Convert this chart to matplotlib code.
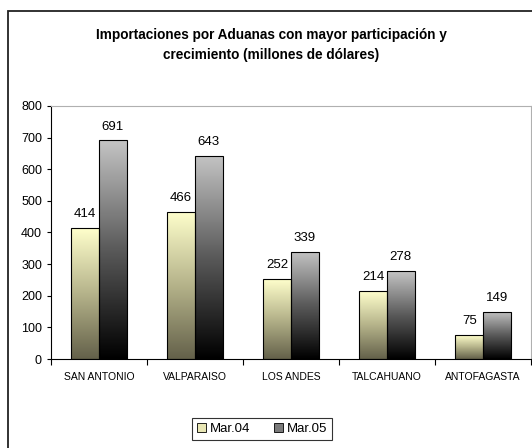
import numpy as np
import matplotlib.pyplot as plt
from matplotlib.colors import LinearSegmentedColormap
from matplotlib.patches import Rectangle

plt.rcParams['font.family'] = ['Liberation Sans', 'DejaVu Sans']

# data
aduanas = ["SAN ANTONIO", "VALPARAISO", "LOS ANDES", "TALCAHUANO", "ANTOFAGASTA"]
mar04 = [414, 466, 252, 214, 75]
mar05 = [691, 643, 339, 278, 149]
series_names = ["Mar.04", "Mar.05"]

W, H = 532, 448
fig = plt.figure(figsize=(W / 100, H / 100), dpi=100)
ax = fig.add_axes([51 / W, 89 / H, 480 / W, 253 / H])

# gradient maps (top -> bottom of each bar)
cmap04 = LinearSegmentedColormap.from_list("c04", ["#64614a", "#b5b38a", "#ffffcc"])
cmap05 = LinearSegmentedColormap.from_list("c05", ["#000000", "#5a5a5a", "#c4c4c4"])
grad = np.linspace(0, 1, 256).reshape(-1, 1)

x = np.arange(len(aduanas))
bw = 0.287
for vals, off, cmap in [(mar04, -bw / 2, cmap04), (mar05, bw / 2, cmap05)]:
    bars = ax.bar(x + off, vals, bw, facecolor="none", edgecolor="black", linewidth=0.8, zorder=3)
    for b, v in zip(bars, vals):
        x0 = b.get_x()
        im = ax.imshow(grad, cmap=cmap, origin="lower", aspect="auto",
                       extent=[x0, x0 + bw, 0, v], zorder=2)
        im.set_clip_path(b)
        ax.text(b.get_x() + bw / 2, v + 25, str(v), ha="center", va="bottom", fontsize=9.5)

ax.set_xlim(-0.5, len(aduanas) - 0.5)
ax.set_ylim(0, 800)
ax.set_yticks(range(0, 801, 100))
ax.tick_params(axis="y", labelsize=9, length=3, width=0.8)
ax.set_xticks(x)
ax.set_xticklabels(aduanas, fontsize=7.5)
ax.tick_params(axis="x", length=0, pad=9)
ax.set_xticks(np.arange(-0.5, len(aduanas)), minor=True)
ax.tick_params(axis="x", which="minor", length=4, width=0.8)
for s in ["top", "right"]:
    ax.spines[s].set_color("#b0b0b0")
    ax.spines[s].set_linewidth(0.8)
for s in ["left", "bottom"]:
    ax.spines[s].set_linewidth(0.8)

fig.text(271 / W, 1 - 45 / H,
         "Importaciones por Aduanas con mayor participación y\ncrecimiento (millones de dólares)",
         ha="center", va="center", fontsize=9.8, fontweight="bold", linespacing=1.5)

handles = [Rectangle((0, 0), 1, 1, facecolor="#e8e6b4", edgecolor="black", linewidth=0.6),
           Rectangle((0, 0), 1, 1, facecolor="#7a7a7a", edgecolor="black", linewidth=0.6)]
leg = fig.legend(handles, series_names, loc="center", bbox_to_anchor=(262 / W, 1 - 429 / H),
                 ncol=2, fontsize=9.5, frameon=True, fancybox=False, edgecolor="black",
                 handlelength=0.7, handleheight=0.7, handletextpad=0.3, columnspacing=1.8,
                 borderpad=0.35)
leg.get_frame().set_linewidth(0.8)

# outer chart frame
fig.patches.append(Rectangle((8 / W, -0.1), 1.2, 1 - 11 / H + 0.1, transform=fig.transFigure,
                             fill=False, edgecolor="#222222", linewidth=1.3))

fig.savefig("out.png", dpi=100)
